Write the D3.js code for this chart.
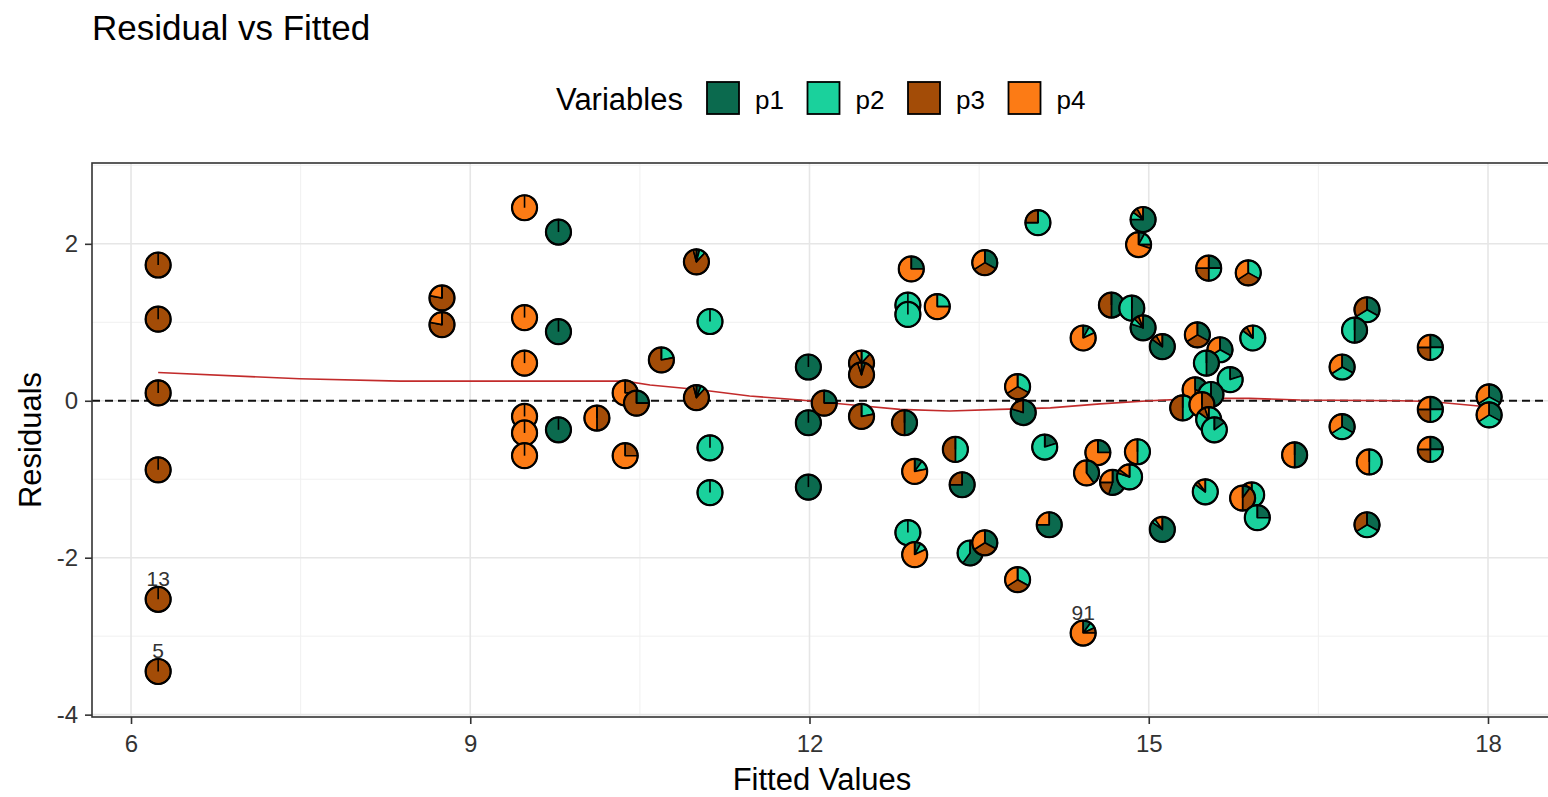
<!DOCTYPE html>
<html>
<head>
<meta charset="utf-8">
<script src="https://cdn.jsdelivr.net/npm/d3@7"></script>
<style>
  body { margin: 0; background: #fff; }
  svg { display: block; font-family: "Liberation Sans", Arial, sans-serif; }
</style>
</head>
<body>
<svg id="chart"></svg>
<script>
// fitted value and residual of every observation
const fitted = [
  6.24, 6.24, 6.24, 6.24, 6.24, 6.24,
  8.75, 8.75,
  9.48, 9.48, 9.48, 9.48, 9.48, 9.48,
  9.78, 9.78, 9.78,
  10.12, 10.37, 10.47, 10.37, 10.69,
  11.0, 11.0, 11.12, 11.12, 11.12,
  11.99, 11.99, 11.99, 12.13,
  12.46, 12.46, 12.46, 12.84,
  12.9, 12.87, 12.87, 13.13, 13.55, 14.02,
  13.84, 13.89, 13.29, 14.08,
  12.93, 13.35, 12.87, 12.93, 13.42, 13.55, 13.84, 14.12,
  14.95, 14.91, 15.53, 15.88,
  14.67, 14.85, 14.95, 14.42, 15.12, 15.43, 15.92, 15.63, 15.51, 15.72,
  15.41, 15.55, 15.30, 15.47, 15.53, 15.58,
  16.71, 16.93, 16.82,
  17.49, 17.49, 17.49,
  18.01, 18.01,
  16.71, 16.29, 16.95,
  14.55, 14.9, 14.45, 14.68, 14.83,
  15.5, 15.91, 15.83, 15.96, 15.12, 16.93, 14.42
];
const resid = [
  1.73, 1.04, 0.10, -0.88, -2.53, -3.45,
  1.31, 0.97,
  2.46, 1.06, 0.48, -0.20, -0.41, -0.70,
  2.15, 0.88, -0.37,
  -0.22, 0.10, -0.03, -0.70, 0.52,
  1.77, 0.04, 1.01, -0.60, -1.17,
  0.43, -0.28, -1.10, -0.03,
  0.48, 0.33, -0.20, -0.28,
  1.68, 1.22, 1.10, 1.20, 1.76, 2.27,
  0.18, -0.15, -0.62, -0.59,
  -0.90, -1.07, -1.68, -1.96, -1.94, -1.81, -2.28, -1.58,
  2.31, 1.99, 1.69, 1.63,
  1.22, 1.18, 0.93, 0.80, 0.69, 0.84, 0.80, 0.65, 0.48, 0.27,
  0.14, 0.08, -0.09, -0.05, -0.24, -0.37,
  0.43, 1.16, 0.90,
  0.68, -0.11, -0.62,
  0.05, -0.18,
  -0.33, -0.69, -0.78,
  -0.66, -0.65, -0.92, -1.04, -0.97,
  -1.16, -1.20, -1.24, -1.49, -1.64, -1.58, -2.96
];

// proportions of the four variables in each glyph
const p1 = [
  0, 0, 0, 0, 0, 0,
  0, 0,
  0, 0, 0, 0, 0, 0,
  1, 1, 1,
  0, 0, .25, 0, 0,
  .04, .06, 0, 0, 0,
  1, 1, 1, .25,
  0, .05, 0, .5,
  .25, 0, 0, 0, .33, 0,
  0, .8, 0, .2,
  .1, .75, 0, .08, .6, .33, 0, .75,
  .75, .08, .25, 0,
  .5, .5, .8, .08, .85, .33, 0, .33, .5, .2,
  .3, .5, 0, 0, 0, .15,
  .33, .33, .5,
  .25, .25, .25,
  .33, .33,
  .33, .5, 0,
  .25, 0, .4, .55, 0,
  0, 0, .1, .25, .85, .33, .1
];
const p2 = [
  0, 0, 0, 0, 0, 0,
  0, 0,
  0, 0, 0, 0, 0, 0,
  0, 0, 0,
  0, 0, 0, 0, .22,
  .08, .06, 1, 1, 1,
  0, 0, 0, 0,
  .12, 0, .22, 0,
  0, 1, 1, .25, 0, .75,
  .33, 0, .5, .8,
  .12, 0, 1, .1, .4, 0, .33, 0,
  .1, .17, .25, .33,
  0, .5, .08, .1, 0, 0, .85, .33, .5, .8,
  0, .5, .5, 0, .85, .85,
  .33, .33, .5,
  .25, .25, .25,
  .33, .33,
  .33, 0, .5,
  0, .5, 0, 0, .8,
  .85, .85, 0, .75, .05, .33, .08
];
const p3 = [
  1, 1, 1, 1, 1, 1,
  .78, .78,
  0, 0, 0, 0, 0, 0,
  0, 0, 0,
  .5, .25, .75, .25, .78,
  .84, .84, 0, 0, 0,
  0, 0, 0, .75,
  .8, .9, .78, .5,
  0, 0, 0, 0, .33, .25,
  .33, .2, .5, 0,
  0, .25, 0, 0, 0, .33, .33, 0,
  .07, .05, .25, .33,
  .5, 0, .06, 0, .07, .33, .07, 0, 0, 0,
  .2, 0, .5, .5, .1, 0,
  0, .34, 0,
  .25, .25, .25,
  0, 0,
  0, 0, 0,
  0, 0, 0, .2, .05,
  .05, .07, .4, 0, 0, .34, .07
];
const p4 = [
  0, 0, 0, 0, 0, 0,
  .22, .22,
  1, 1, 1, 1, 1, 1,
  0, 0, 0,
  .5, .75, 0, .75, 0,
  .04, .04, 0, 0, 0,
  0, 0, 0, 0,
  .08, .05, 0, 0,
  .75, 0, 0, .75, .34, 0,
  .34, 0, 0, 0,
  .78, 0, 0, .82, 0, .34, .34, .25,
  .08, .7, .25, .34,
  0, 0, .06, .82, .08, .34, .08, .34, 0, 0,
  .5, 0, 0, .5, .05, 0,
  .34, 0, 0,
  .25, .25, .25,
  .34, .34,
  .34, .5, .5,
  .75, .5, .6, .25, .15,
  .1, .08, .5, 0, .1, 0, .75
];

// loess-like smoother
const smoothX = [6.24, 7.49, 8.38, 9.26, 10.37, 10.59, 11.03, 11.47, 11.92, 12.36, 12.8, 13.24, 13.68, 14.13, 14.57, 15.01, 15.45, 15.89, 16.34, 17.22, 17.49, 18.01];
const smoothY = [0.36, 0.28, 0.25, 0.25, 0.25, 0.2, 0.14, 0.06, 0.01, -0.05, -0.11, -0.13, -0.11, -0.09, -0.04, 0.0, 0.03, 0.03, 0.01, 0.0, -0.01, -0.08];

// outlier labels
const labelIndex = [4, 5, 95];
const labelText = ["13", "5", "91"];

const variables = ["p1", "p2", "p3", "p4"];
const colors = ["#0b6a4e", "#1ad19c", "#a34c07", "#fc7b15"];

const xTicks = [6, 9, 12, 15, 18];
const xMinor = [7.5, 10.5, 13.5, 16.5];
const yTicks = [-4, -2, 0, 2];
const yMinor = [-3, -1, 1, 3];

const width = 1548, height = 797;
const panel = { left: 92, top: 163, right: 1552, bottom: 717 };

const svg = d3.select('#chart')
  .attr('width', width)
  .attr('height', height);

const x = d3.scaleLinear().domain([5.655, 18.566]).range([panel.left, panel.right]);
const y = d3.scaleLinear().domain([-4.03, 3.03]).range([panel.bottom, panel.top]);

// grid
const grid = svg.append('g');
grid.selectAll('.xminor').data(xMinor).enter().append('line')
  .attr('x1', d => x(d)).attr('x2', d => x(d))
  .attr('y1', panel.top).attr('y2', panel.bottom)
  .attr('stroke', '#f0f0f0').attr('stroke-width', 1);
grid.selectAll('.yminor').data(yMinor).enter().append('line')
  .attr('y1', d => y(d)).attr('y2', d => y(d))
  .attr('x1', panel.left).attr('x2', panel.right)
  .attr('stroke', '#f0f0f0').attr('stroke-width', 1);
grid.selectAll('.xmajor').data(xTicks).enter().append('line')
  .attr('x1', d => x(d)).attr('x2', d => x(d))
  .attr('y1', panel.top).attr('y2', panel.bottom)
  .attr('stroke', '#e6e6e6').attr('stroke-width', 1.6);
grid.selectAll('.ymajor').data(yTicks).enter().append('line')
  .attr('y1', d => y(d)).attr('y2', d => y(d))
  .attr('x1', panel.left).attr('x2', panel.right)
  .attr('stroke', '#e6e6e6').attr('stroke-width', 1.6);

// zero reference
svg.append('line')
  .attr('x1', panel.left).attr('x2', panel.right)
  .attr('y1', y(0)).attr('y2', y(0))
  .attr('stroke', '#111').attr('stroke-width', 1.8)
  .attr('stroke-dasharray', '8,5');

// smoother
const line = d3.line().x(d => x(d[0])).y(d => y(d[1]));
svg.append('path')
  .datum(d3.zip(smoothX, smoothY))
  .attr('d', line)
  .attr('fill', 'none')
  .attr('stroke', '#c22b2b')
  .attr('stroke-width', 1.6);

// pie glyphs
const r = 12.5;
const pie = d3.pie().sort(null).value(d => d.v);
const arc = d3.arc().innerRadius(0).outerRadius(r);

const points = fitted.map((f, i) => ({
  f, res: resid[i],
  parts: [p1[i], p2[i], p3[i], p4[i]].map((v, k) => ({ v, k }))
}));

const glyphs = svg.append('g').selectAll('g').data(points).enter().append('g')
  .attr('transform', d => `translate(${x(d.f)},${y(d.res)})`);

glyphs.each(function (d) {
  const g = d3.select(this);
  g.selectAll('path').data(pie(d.parts).filter(a => a.data.v > 0)).enter().append('path')
    .attr('d', arc)
    .attr('fill', a => colors[a.data.k])
    .attr('stroke', '#000')
    .attr('stroke-width', 1.6)
    .attr('stroke-linejoin', 'round');
  g.append('line')
    .attr('x1', 0).attr('y1', 0).attr('x2', 0).attr('y2', -r)
    .attr('stroke', '#000').attr('stroke-width', 1.6);
  g.append('circle')
    .attr('r', r)
    .attr('fill', 'none')
    .attr('stroke', '#000')
    .attr('stroke-width', 2.2);
});

// outlier labels
svg.append('g').selectAll('text').data(labelIndex).enter().append('text')
  .attr('x', i => x(fitted[i]))
  .attr('y', i => y(resid[i]) - 13)
  .attr('text-anchor', 'middle')
  .attr('font-size', 21)
  .attr('fill', '#333')
  .text((i, n) => labelText[n]);

// panel border
svg.append('rect')
  .attr('x', panel.left).attr('y', panel.top)
  .attr('width', panel.right - panel.left).attr('height', panel.bottom - panel.top)
  .attr('fill', 'none').attr('stroke', '#333').attr('stroke-width', 1.6);

// axes
const xAxis = svg.append('g')
  .attr('transform', `translate(0,${panel.bottom})`)
  .call(d3.axisBottom(x).tickValues(xTicks).tickFormat(d => String(d)).tickSize(7).tickPadding(11));
const yAxis = svg.append('g')
  .attr('transform', `translate(${panel.left},0)`)
  .call(d3.axisLeft(y).tickValues(yTicks).tickFormat(d => String(d)).tickSize(7).tickPadding(7));
[xAxis, yAxis].forEach(a => {
  a.select('.domain').remove();
  a.selectAll('.tick line').attr('stroke', '#333').attr('stroke-width', 1.6);
  a.selectAll('.tick text')
    .attr('font-size', 24)
    .attr('font-family', '"Liberation Sans", Arial, sans-serif')
    .attr('fill', '#333');
});

// axis titles
svg.append('text')
  .attr('x', (panel.left + panel.right) / 2).attr('y', 790)
  .attr('text-anchor', 'middle').attr('font-size', 31).attr('fill', '#000')
  .text('Fitted Values');
svg.append('text')
  .attr('transform', `translate(41,${(panel.top + panel.bottom) / 2}) rotate(-90)`)
  .attr('text-anchor', 'middle').attr('font-size', 31).attr('fill', '#000')
  .text('Residuals');

// title
svg.append('text')
  .attr('x', 92).attr('y', 40)
  .attr('font-size', 35).attr('fill', '#000')
  .text('Residual vs Fitted');

// legend
const legend = svg.append('g');
legend.append('text')
  .attr('x', 556).attr('y', 110)
  .attr('font-size', 31).attr('fill', '#000')
  .text('Variables');
const keys = legend.selectAll('.key').data(variables).enter().append('g')
  .attr('transform', (d, i) => `translate(${707 + i * 100.5},82)`);
keys.append('rect')
  .attr('width', 32).attr('height', 32)
  .attr('fill', (d, i) => colors[i])
  .attr('stroke', '#000').attr('stroke-width', 1.8);
keys.append('text')
  .attr('x', 48).attr('y', 27)
  .attr('font-size', 26).attr('fill', '#000')
  .text(d => d);
</script>
</body>
</html>
